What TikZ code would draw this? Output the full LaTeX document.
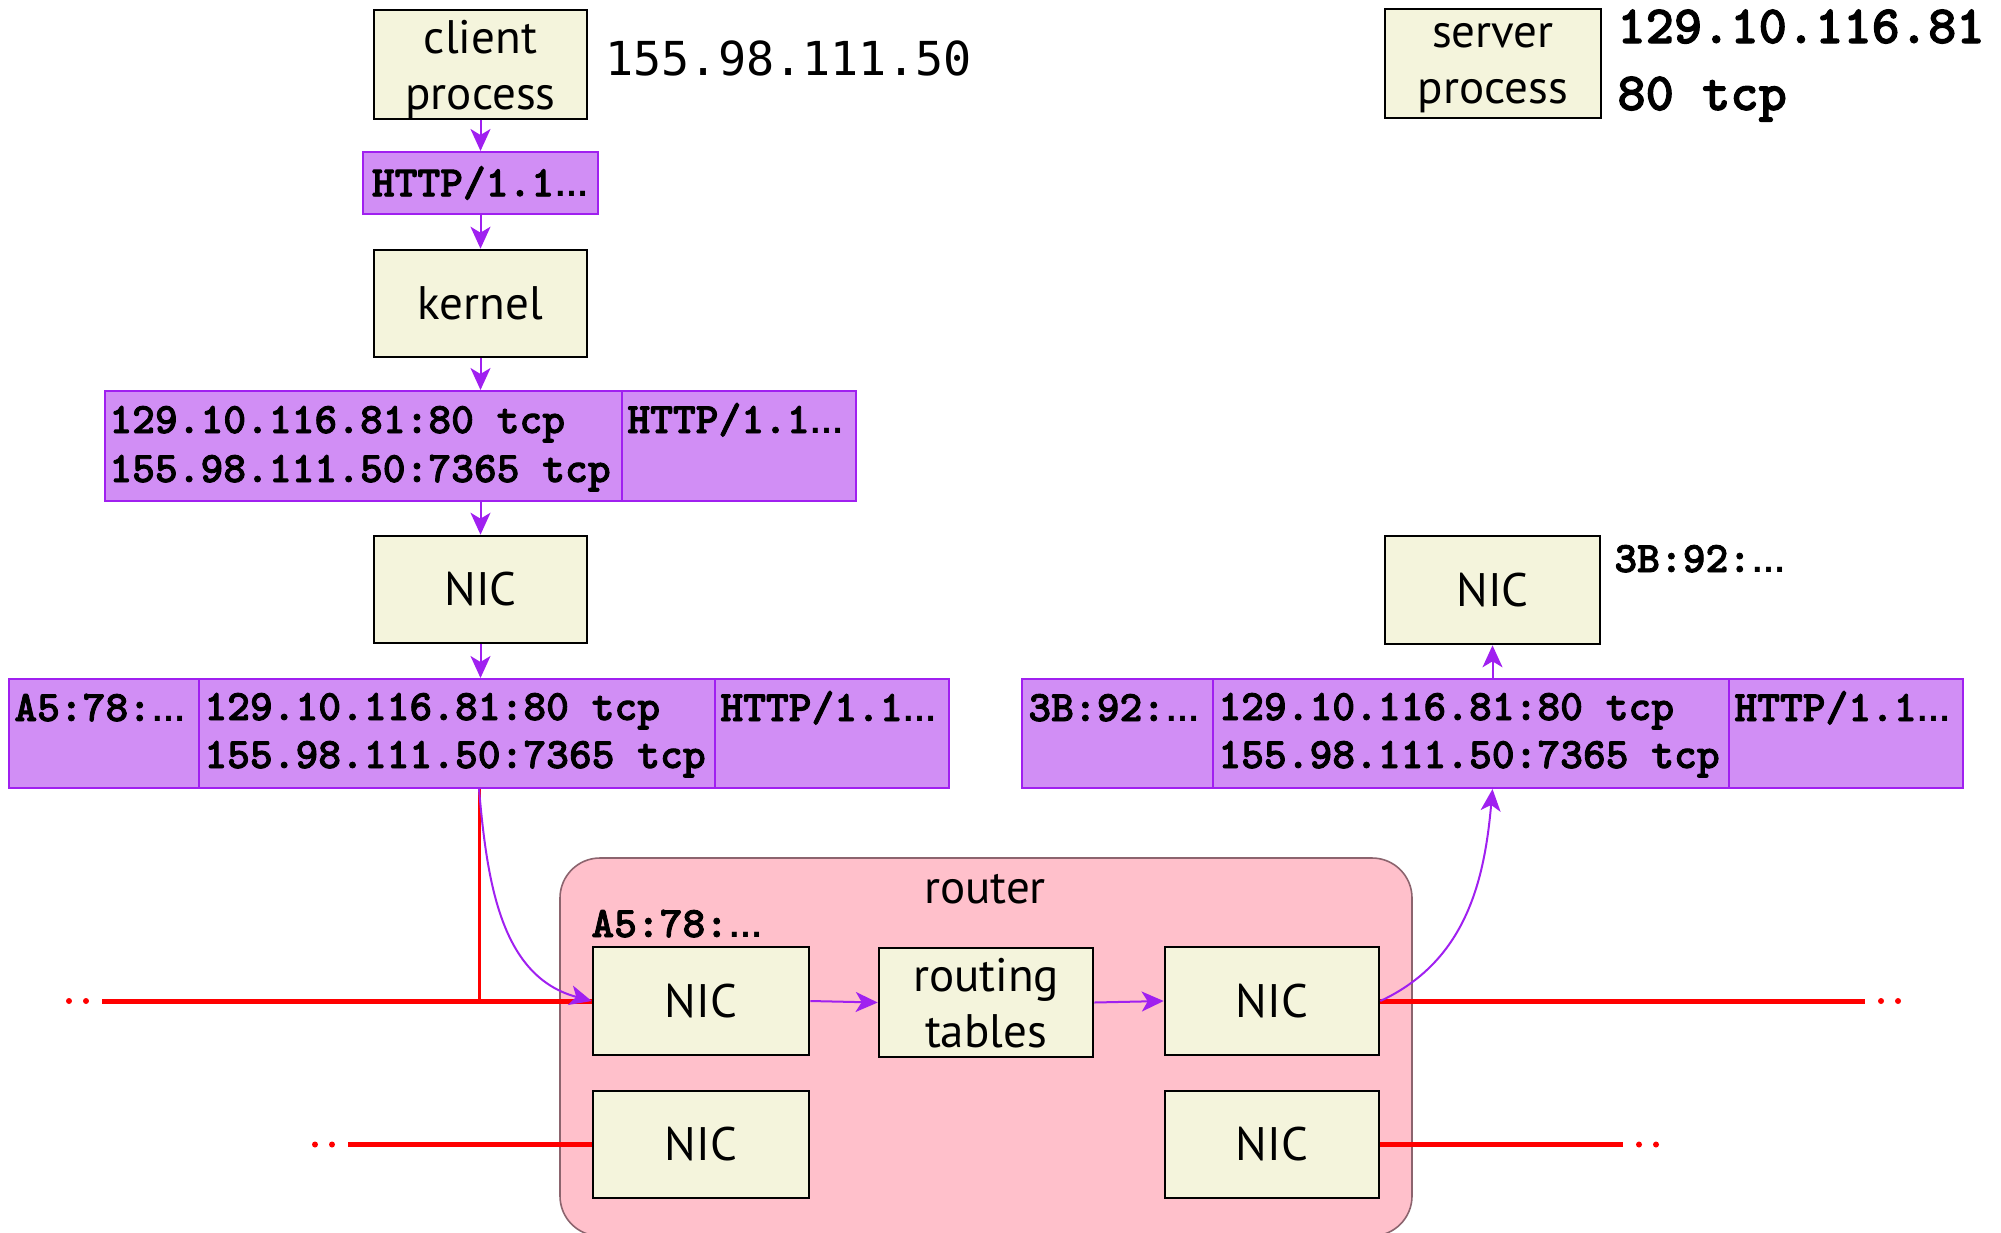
\documentclass[tikz,border=0pt]{standalone}
\usepackage{fontspec}
\setmainfont{PT Sans}
\newfontfamily\dvmfont{DejaVu Sans Mono}
\newfontfamily\lsfont{Liberation Sans}
\newfontfamily\ttbold{lmmonolt10-bold.otf}[FakeBold=2]
\usetikzlibrary{arrows.meta}
\definecolor{boxbeige}{RGB}{244,244,220}
\definecolor{pktfill}{RGB}{209,142,245}
\definecolor{pktline}{RGB}{160,32,240}
\definecolor{routerpink}{RGB}{255,192,203}
\definecolor{routerline}{RGB}{140,100,110}
\newcommand\mydots{{\lsfont\bfseries\fontsize{17.5}{17.5}\selectfont …}}
\tikzset{
  hw/.style={draw=black, line width=1.3pt, fill=boxbeige, inner sep=0pt, align=center,
             font=\fontsize{23.5}{28}\selectfont},
  hwtwo/.style={hw, text depth=0pt},
  sz/.style 2 args={minimum width=#1pt, minimum height=#2pt},
  pkt/.style={draw=pktline, line width=1pt, fill=pktfill, inner sep=0pt,
              font=\ttbold\fontsize{21.7}{21.7}\selectfont},
  pkdiv/.style={draw=pktline, line width=1pt},
  ptxt/.style={anchor=base west, inner sep=0pt, font=\ttbold\fontsize{21.7}{21.7}\selectfont},
  biglbl/.style={anchor=base west, inner sep=0pt, font=\ttbold\fontsize{26.9}{26.9}\selectfont},
  flow/.style={draw=pktline, line width=1pt, -{Stealth[length=11pt,width=10pt,inset=3pt]}},
  wire/.style={draw=red, line width=2.5pt},
  wiredots/.style={draw=red, line width=3pt, line cap=round, dash pattern=on 0pt off 8.5pt},
}
\begin{document}
\begin{tikzpicture}[x=0.5pt,y=-0.5pt]
\useasboundingbox (0,0) rectangle (2001,1232);

% router
\node[sz={426}{189}, inner sep=0pt, draw=routerline, line width=0.8pt,
      fill=routerpink, rounded corners=20pt] (router) at (986,1047) {};
\node[anchor=base, inner sep=0pt, font=\fontsize{23.5}{25.5}\selectfont] (routerlbl) at (985,903) {router};

% client side
\node[hwtwo, sz={106.5}{54.5}] (client) at (480.5,64.5) {client\\process};
\node[anchor=base west, inner sep=0pt, font=\dvmfont\fontsize{23.4}{23.4}\selectfont] (clientip) at (605,75) {155.98.111.50};
\node[pkt, sz={117.5}{31}] (http) at (480.5,183) {HTTP/1.1\mydots};
\node[hw, sz={106.5}{53.5}] (kernel) at (480.5,303.5) {kernel};

\node[pkt, sz={375.5}{55}] (pk1) at (480.5,446) {};
\draw[pkdiv] (622,391) -- (622,501);
\node[ptxt] (pk1a) at (109,433) {129.10.116.81:80 tcp};
\node[ptxt] (pk1b) at (109,482) {155.98.111.50:7365 tcp};
\node[ptxt] (pk1c) at (627,433) {HTTP/1.1\mydots};

\node[hw, sz={106.5}{53.5}] (cnic) at (480.5,589.5) {NIC};

\node[pkt, sz={470}{54.5}] (pk2) at (479,733.5) {};
\draw[pkdiv] (199,679) -- (199,788);
\draw[pkdiv] (715,679) -- (715,788);
\node[ptxt] (pk2m) at (14,721) {A5:78:\mydots};
\node[ptxt] (pk2a) at (204,720) {129.10.116.81:80 tcp};
\node[ptxt] (pk2b) at (204,768) {155.98.111.50:7365 tcp};
\node[ptxt] (pk2c) at (720,721) {HTTP/1.1\mydots};

% server side
\node[hwtwo, sz={108}{54.5}] (server) at (1493,63.5) {server\\process};
\node[biglbl] (serverip) at (1617,43) {129.10.116.81};
\node[biglbl] (serverport) at (1617,110) {80 tcp};

\node[hw, sz={107.5}{54}] (snic) at (1492.5,590) {NIC};
\node[ptxt] (smac) at (1614,572) {3B:92:\mydots};

\node[pkt, sz={470.5}{54.5}] (pk3) at (1492.5,733.5) {};
\draw[pkdiv] (1213,679) -- (1213,788);
\draw[pkdiv] (1729,679) -- (1729,788);
\node[ptxt] (pk3m) at (1028,721) {3B:92:\mydots};
\node[ptxt] (pk3a) at (1218,720) {129.10.116.81:80 tcp};
\node[ptxt] (pk3b) at (1218,768) {155.98.111.50:7365 tcp};
\node[ptxt] (pk3c) at (1734,721) {HTTP/1.1\mydots};

% router internals
\node[ptxt] (rmac) at (591,937) {A5:78:\mydots};
\node[hw, sz={108}{54}] (rnic1) at (701,1001) {NIC};
\node[hwtwo, sz={107}{54.5}] (rt) at (986,1002.5) {routing\\tables};
\node[hw, sz={107}{54}] (rnic2) at (1272,1001) {NIC};
\node[hw, sz={108}{53.5}] (rnic3) at (701,1144.5) {NIC};
\node[hw, sz={107}{53.5}] (rnic4) at (1272,1144.5) {NIC};

% wires
\coordinate (wA) at (102,1001);
\coordinate (wAd1) at (69,1001);
\coordinate (wAd2) at (87,1001);
\coordinate (wB) at (1865,1001);
\coordinate (wBd1) at (1881,1001);
\coordinate (wBd2) at (1899,1001);
\coordinate (wC) at (348,1144.5);
\coordinate (wCd1) at (315,1144.5);
\coordinate (wCd2) at (333,1144.5);
\coordinate (wD) at (1623,1144.5);
\coordinate (wDd1) at (1639,1144.5);
\coordinate (wDd2) at (1657,1144.5);

\draw[wire] (wA) -- (rnic1.west);
\draw[wiredots] (wAd1) -- (wAd2);
\draw[wire, line width=1.5pt] (pk2.south) -- (pk2.south |- rnic1.west);
\draw[wire] (rnic2.east) -- (wB);
\draw[wiredots] (wBd1) -- (wBd2);
\draw[wire] (wC) -- (rnic3.west);
\draw[wiredots] (wCd1) -- (wCd2);
\draw[wire] (rnic4.east) -- (wD);
\draw[wiredots] (wDd1) -- (wDd2);

% flows
\draw[flow] (client.south) -- (http.north);
\draw[flow] (http.south) -- (kernel.north);
\draw[flow] (kernel.south) -- (pk1.north);
\draw[flow] (pk1.south) -- (cnic.north);
\draw[flow] (cnic.south) -- (cnic.south |- pk2.north);
\draw[flow] (pk2.south) to[out=-85,in=165] (rnic1.west);
\draw[flow] (rnic1.east) -- (rt.west);
\draw[flow] (rt.east) -- (rnic2.west);
\draw[flow] (rnic2.east) to[out=25,in=-95] (pk3.south);
\draw[flow] (pk3.north) -- (snic.south);
\end{tikzpicture}
\end{document}
